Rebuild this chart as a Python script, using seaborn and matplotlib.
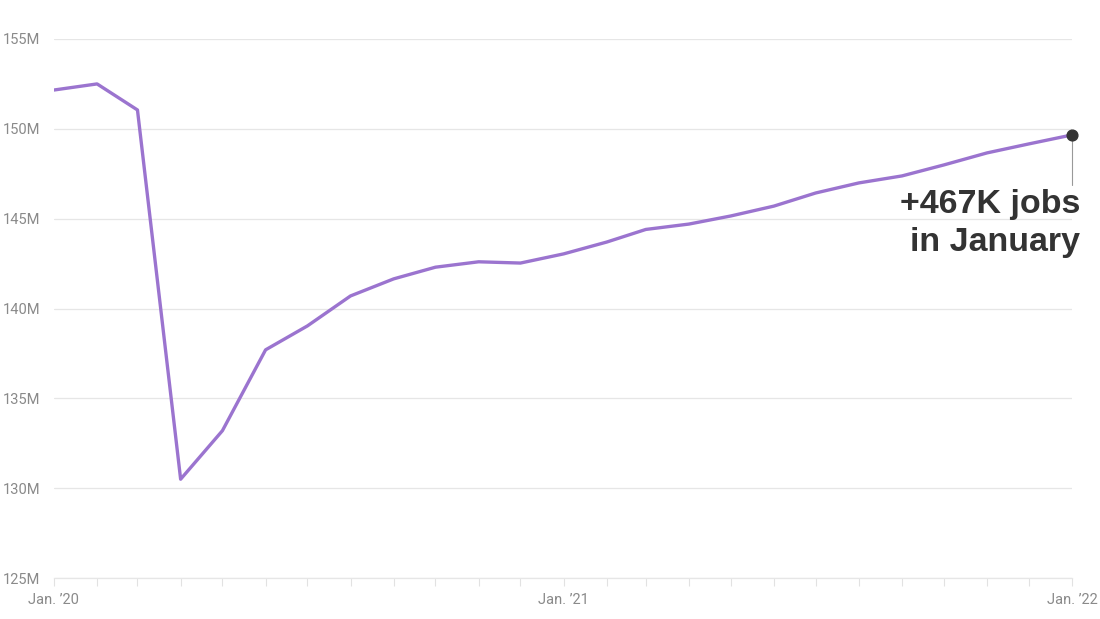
import matplotlib
import matplotlib.pyplot as plt
import matplotlib.dates as mdates
import pandas as pd
import seaborn as sns

matplotlib.use("Agg")

# nonfarm payroll employment, millions, Jan 2020 - Jan 2022
months = pd.date_range("2020-01-01", periods=25, freq="MS")
jobs = [
    152.16, 152.50, 151.05, 130.50, 133.20, 137.70, 139.03, 140.70, 141.65,
    142.30, 142.60, 142.53, 143.04, 143.70, 144.40, 144.70, 145.15, 145.70,
    146.43, 146.99, 147.38, 147.99, 148.66, 149.16, 149.66,
]
y_ticks = [125, 130, 135, 140, 145, 150, 155]
y_labels = ["125M", "130M", "135M", "140M", "145M", "150M", "155M"]
x_ticks = pd.to_datetime(["2020-01-01", "2021-01-01", "2022-01-01"])
x_labels = ["Jan. \u201920", "Jan. \u201921", "Jan. \u201922"]
note = "+467K jobs\nin January"

df = pd.DataFrame({"month": months, "jobs": jobs})

sns.set_theme(style="white")
plt.rcParams["font.family"] = ["Roboto", "DejaVu Sans"]

fig = plt.figure(figsize=(11, 6.19), dpi=100)
ax = fig.add_axes([0.049, 0.0662, 0.9255, 0.8708])

sns.lineplot(data=df, x="month", y="jobs", color="#9b74cf", linewidth=2.4, ax=ax)

ax.set_xlim(months[0], months[-1])
ax.set_ylim(125, 155)
ax.set_yticks(y_ticks)
ax.set_yticklabels(y_labels)
ax.set_xticks(x_ticks)
ax.set_xticklabels(x_labels)
ax.xaxis.set_minor_locator(mdates.MonthLocator())
ax.set_xlabel("")
ax.set_ylabel("")

ax.grid(axis="y", color="#e6e6e6", linewidth=0.9)
for side in ["top", "right", "left"]:
    ax.spines[side].set_visible(False)
ax.spines["bottom"].set_color("#e6e6e6")
ax.spines["bottom"].set_linewidth(0.9)

ax.tick_params(axis="y", length=0, pad=10, labelsize=10.5, labelcolor="#8a8a8a")
ax.tick_params(axis="x", which="both", direction="out", length=6, width=0.8,
               color="#e2e2e2", labelsize=10.5, labelcolor="#8a8a8a", pad=5,
               bottom=True)

# end point annotation
last_x, last_y = months[-1], jobs[-1]
ax.plot([last_x, last_x], [last_y, 146.9], color="#999999", linewidth=0.8,
        clip_on=False, zorder=3)
ax.scatter([last_x], [last_y], s=60, color="#333333", zorder=4, clip_on=False)
ax.annotate(note, xy=(last_x, 146.9), xytext=(6, -3), textcoords="offset points",
            ha="right", va="top", fontsize=24.5, fontweight="bold", color="#333333",
            linespacing=1.3, family=["Liberation Sans", "DejaVu Sans"],
            annotation_clip=False)

fig.savefig("out.png", dpi=100, facecolor="white")
plt.close(fig)
